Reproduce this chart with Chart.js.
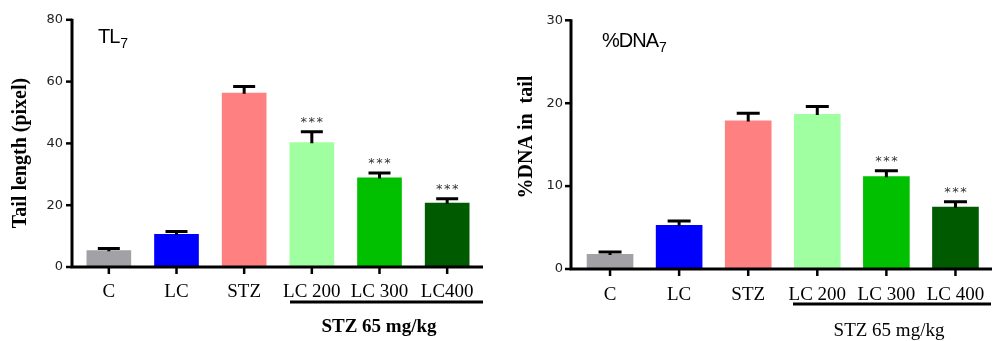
<!DOCTYPE html>
<html>
<head>
<meta charset="utf-8">
<script src="https://cdn.jsdelivr.net/npm/chart.js@4"></script>
<style>
  html, body { margin: 0; padding: 0; background: #fff; }
  #wrap { display: flex; width: 1000px; height: 341px; }
  .box { position: relative; width: 500px; height: 341px; }
  canvas { display: block; }
</style>
</head>
<body>
<div id="wrap">
  <div class="box"><canvas id="tl" width="500" height="341"></canvas></div>
  <div class="box"><canvas id="dna" width="500" height="341"></canvas></div>
</div>
<script>
// Groups and bar colours
const tailCategories = ['C', 'LC', 'STZ', 'LC 200', 'LC 300', 'LC400'];
const dnaCategories = ['C', 'LC', 'STZ', 'LC 200', 'LC 300', 'LC 400'];
const barColors = ['#a1a1a6', '#0000ff', '#ff8080', '#a0ffa0', '#00c000', '#005a00'];

// Tail length (pixel): mean and SEM
const tailLength = [5.4, 10.7, 56.4, 40.4, 29.0, 20.8];
const tailLengthSem = [0.6, 0.8, 2.0, 3.4, 1.4, 1.3];
const tailSignif = ['', '', '', '***', '***', '***'];
const tailTicks = [0, 20, 40, 60, 80];

// %DNA in tail: mean and SEM
const dnaInTail = [1.8, 5.3, 17.9, 18.7, 11.2, 7.5];
const dnaInTailSem = [0.25, 0.5, 0.9, 0.9, 0.65, 0.6];
const dnaSignif = ['', '', '', '', '***', '***'];
const dnaTicks = [0, 10, 20, 30];

const groupLabel = 'STZ 65 mg/kg';

// Draws axes, error bars, significance marks and annotations
const annotatePlugin = {
  id: 'annotate',
  afterDatasetsDraw(chart) {
    const o = chart.options.plugins.annotate;
    const ctx = chart.ctx;
    const xs = chart.scales.x, ys = chart.scales.y;
    ctx.save();
    ctx.strokeStyle = '#000';
    ctx.lineWidth = 3;
    ctx.lineCap = 'butt';
    o.values.forEach((v, i) => {
      const x = xs.getPixelForValue(i);
      const yBar = ys.getPixelForValue(v);
      const yTop = ys.getPixelForValue(v + o.sem[i]);
      ctx.beginPath();
      ctx.moveTo(x, yBar + 1);
      ctx.lineTo(x, yTop);
      ctx.moveTo(x - o.cap / 2, yTop);
      ctx.lineTo(x + o.cap / 2, yTop);
      ctx.stroke();
      if (o.signif[i]) {
        ctx.fillStyle = '#333';
        ctx.font = '13px "DejaVu Sans"';
        ctx.textAlign = 'center';
        ctx.textBaseline = 'alphabetic';
        const n = o.signif[i].length;
        for (let k = 0; k < n; k++) {
          ctx.fillText('*', x + (k - (n - 1) / 2) * 8, yTop - 13 + 7);
        }
      }
    });
    ctx.restore();
  },
  afterDraw(chart) {
    const o = chart.options.plugins.annotate;
    const ctx = chart.ctx;
    const xs = chart.scales.x, ys = chart.scales.y;
    const y0 = ys.getPixelForValue(0);
    const yMax = ys.getPixelForValue(ys.max);
    ctx.save();
    ctx.strokeStyle = '#000';
    ctx.lineWidth = 3;
    // axis lines
    ctx.beginPath();
    ctx.moveTo(o.axisX, yMax - 1);
    ctx.lineTo(o.axisX, y0 + 1.5);
    ctx.moveTo(o.axisX - 1.5, y0);
    ctx.lineTo(o.axisRight, y0);
    ctx.stroke();
    // y tick marks
    ctx.lineWidth = 2.5;
    ys.ticks.forEach(t => {
      const y = ys.getPixelForValue(t.value);
      ctx.beginPath();
      ctx.moveTo(o.axisX - 6, y);
      ctx.lineTo(o.axisX, y);
      ctx.stroke();
    });
    // x tick marks and category labels
    ctx.fillStyle = '#000';
    ctx.font = '19px "Liberation Serif"';
    ctx.textAlign = 'center';
    ctx.textBaseline = 'alphabetic';
    o.labels.forEach((lab, i) => {
      const x = xs.getPixelForValue(i);
      ctx.beginPath();
      ctx.moveTo(x, y0);
      ctx.lineTo(x, y0 + 7);
      ctx.stroke();
      ctx.fillText(lab, x, o.labelBaseline);
    });
    // bracket under the STZ-treated groups
    ctx.lineWidth = 3;
    ctx.beginPath();
    ctx.moveTo(o.bracket[0], o.bracketY);
    ctx.lineTo(o.bracket[1], o.bracketY);
    ctx.stroke();
    ctx.font = (o.groupBold ? 'bold ' : '') + '19px "Liberation Serif"';
    ctx.fillText(groupLabel, o.groupX, o.groupBaseline);
    // panel tag with subscript
    ctx.textAlign = 'left';
    ctx.font = '20px "Liberation Sans"';
    ctx.letterSpacing = '-1px';
    ctx.fillText(o.tag, o.tagX, o.tagBaseline);
    const w = ctx.measureText(o.tag).width;
    ctx.letterSpacing = '0px';
    ctx.font = '14px "Liberation Sans"';
    ctx.fillText('7', o.tagX + w + 1, o.tagBaseline + 5);
    // y axis title
    ctx.translate(o.titleX, o.titleY);
    ctx.rotate(-Math.PI / 2);
    ctx.textAlign = 'center';
    ctx.textBaseline = 'middle';
    ctx.font = 'bold 20px "Liberation Serif"';
    ctx.fillText(o.yTitle, 0, 0);
    ctx.restore();
  }
};

function makeChart(id, cfg) {
  return new Chart(document.getElementById(id), {
    type: 'bar',
    data: {
      labels: cfg.labels,
      datasets: [{
        data: cfg.values,
        backgroundColor: barColors,
        borderWidth: 0,
        barPercentage: cfg.barPct,
        categoryPercentage: 1
      }]
    },
    options: {
      responsive: false,
      animation: false,
      devicePixelRatio: 1,
      layout: { padding: { top: cfg.area.top, right: 500 - cfg.area.right, bottom: 0, left: 0 } },
      plugins: {
        legend: { display: false },
        tooltip: { enabled: false },
        annotate: cfg.annotate
      },
      scales: {
        x: {
          type: 'category',
          offset: true,
          grid: { display: false, drawTicks: false },
          border: { display: false },
          ticks: { display: false },
          afterFit: s => { s.height = 341 - cfg.area.bottom; }
        },
        y: {
          min: 0,
          max: cfg.ticks[cfg.ticks.length - 1],
          afterBuildTicks: s => { s.ticks = cfg.ticks.map(v => ({ value: v })); },
          grid: { display: false, drawTicks: false },
          border: { display: false },
          ticks: {
            color: '#222',
            font: { family: 'DejaVu Sans', size: 13 },
            padding: cfg.area.left - cfg.tickRight
          },
          afterFit: s => { s.width = cfg.area.left; }
        }
      }
    },
    plugins: [annotatePlugin]
  });
}

makeChart('tl', {
  labels: tailCategories,
  values: tailLength,
  ticks: tailTicks,
  barPct: 0.66,
  area: { left: 75, top: 13, right: 481, bottom: 267 },
  tickRight: 63,
  annotate: {
    values: tailLength, sem: tailLengthSem, signif: tailSignif, labels: tailCategories,
    cap: 22, axisX: 72, axisRight: 483,
    labelBaseline: 297,
    bracket: [290, 483], bracketY: 302,
    groupX: 379, groupBaseline: 332, groupBold: true,
    tag: 'TL', tagX: 98, tagBaseline: 43,
    yTitle: 'Tail length (pixel)', titleX: 21, titleY: 153
  }
});

makeChart('dna', {
  labels: dnaCategories,
  values: dnaInTail,
  ticks: dnaTicks,
  barPct: 0.675,
  area: { left: 75.5, top: 16, right: 490, bottom: 269 },
  tickRight: 63,
  annotate: {
    values: dnaInTail, sem: dnaInTailSem, signif: dnaSignif, labels: dnaCategories,
    cap: 23, axisX: 71, axisRight: 492,
    labelBaseline: 300,
    bracket: [293, 491], bracketY: 304,
    groupX: 389, groupBaseline: 336, groupBold: false,
    tag: '%DNA', tagX: 102, tagBaseline: 47,
    yTitle: '%DNA in  tail', titleX: 27, titleY: 137
  }
});
</script>
</body>
</html>
